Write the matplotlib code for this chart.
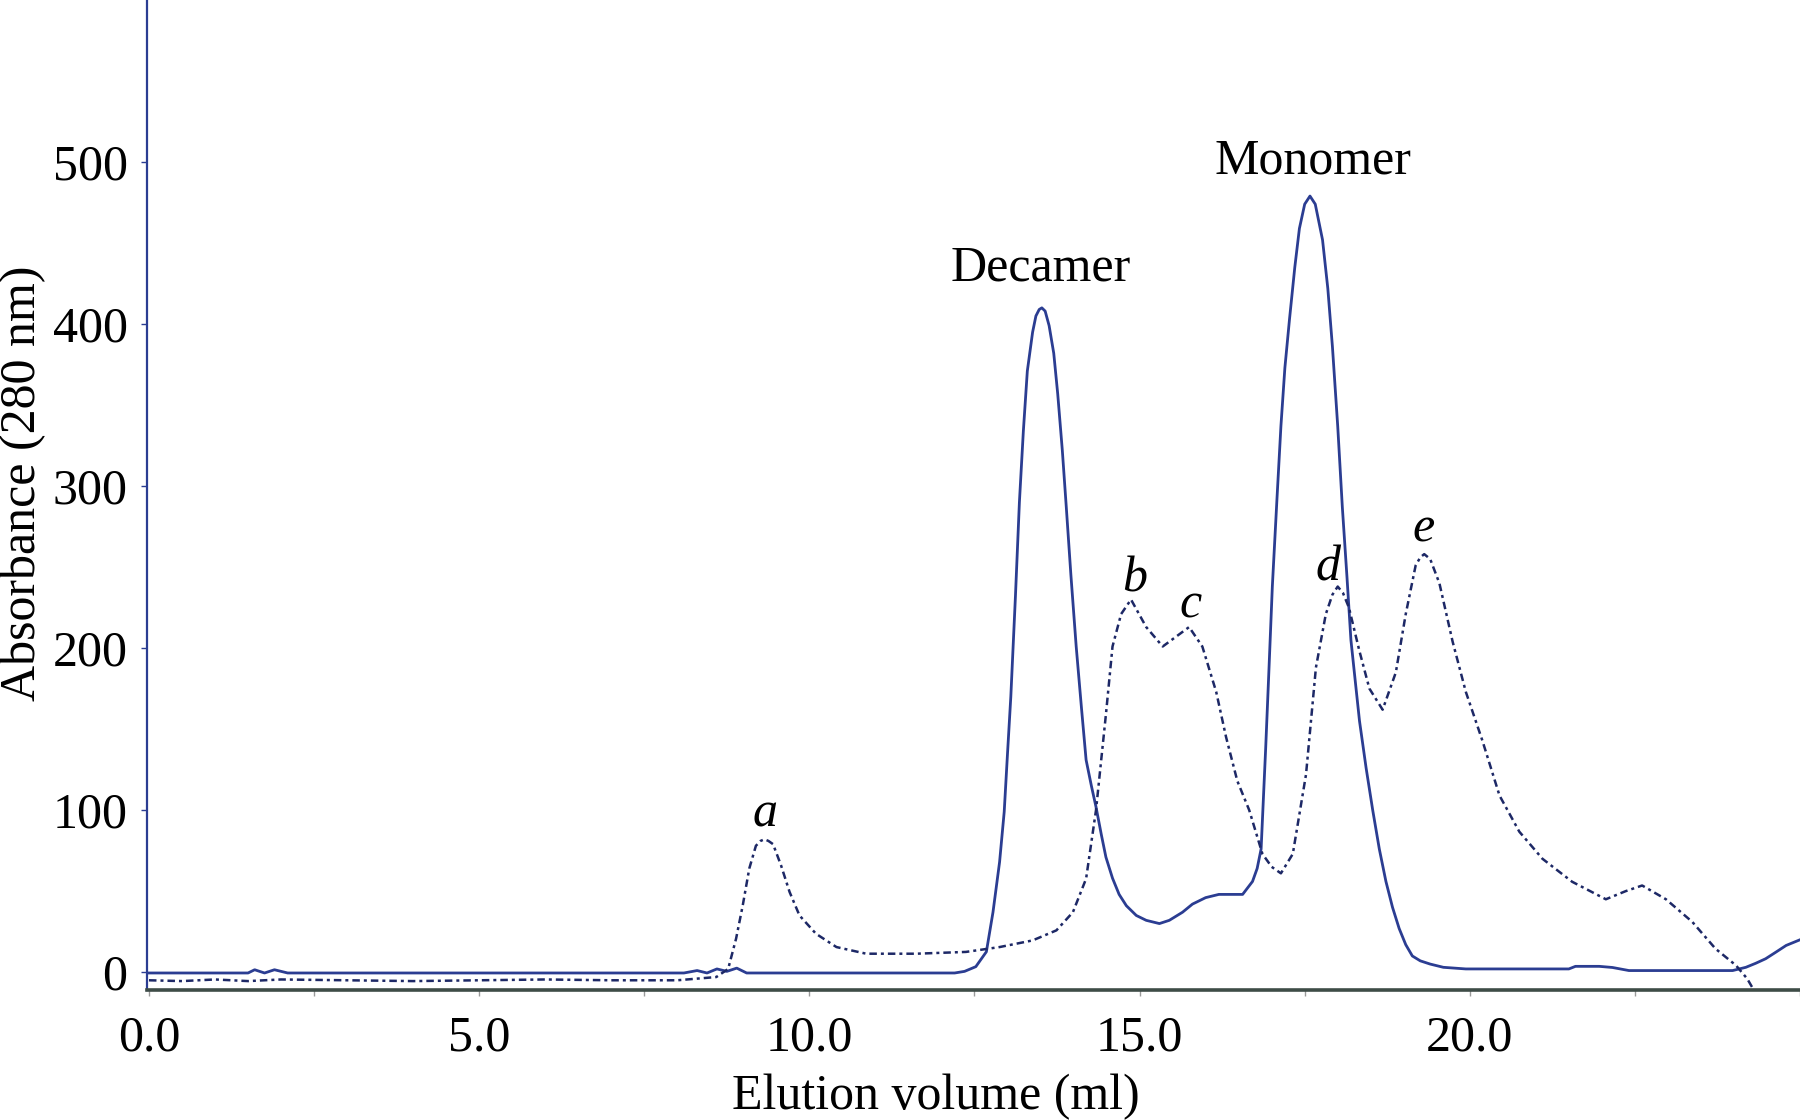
import matplotlib
matplotlib.use("Agg")
import matplotlib.pyplot as plt
from matplotlib.ticker import MultipleLocator, FormatStrFormatter

# elution profile, solid trace (ml, mAU)
vol_solid = [0.0, 1.5, 1.6, 1.75, 1.9, 2.1, 3.0, 8.1, 8.3, 8.45, 8.6, 8.75, 8.9, 9.05, 9.2,
             12.2, 12.35, 12.52, 12.68, 12.78, 12.88, 12.95, 13.0, 13.05, 13.12, 13.18,
             13.24, 13.3, 13.38, 13.43, 13.48, 13.52, 13.57, 13.63, 13.7, 13.76, 13.83,
             13.89, 13.96, 14.04, 14.12, 14.19, 14.27, 14.34, 14.42, 14.49, 14.59, 14.69,
             14.8, 14.95, 15.1, 15.3, 15.45, 15.65, 15.8, 16.0, 16.2, 16.56, 16.71, 16.78,
             16.84, 16.91, 16.96, 17.01, 17.08, 17.14, 17.2, 17.27, 17.35, 17.42, 17.5,
             17.58, 17.66, 17.72, 17.77, 17.85, 17.92, 18.0, 18.07, 18.14, 18.2, 18.27,
             18.33, 18.43, 18.53, 18.63, 18.73, 18.83, 18.93, 19.03, 19.13, 19.25, 19.4,
             19.6, 19.94, 21.5, 21.6, 21.96, 22.16, 22.41, 23.98, 24.18, 24.33, 24.48,
             24.64, 24.79, 25.0]
abs_solid = [-0.5, -0.5, 1.5, -0.5, 1.5, -0.5, -0.5, -0.5, 1.0, -0.5, 2.0, 0.5, 2.5, -0.5, -0.5,
             -0.5, 0.5, 3.4, 12.6, 37, 68, 99, 135, 170, 232, 290,
             334, 371, 395, 405, 409, 410, 408, 399, 382, 357, 322,
             287, 245, 201, 163, 131, 115, 102, 85, 71, 58, 48,
             41, 35, 32, 30, 32, 37, 42, 46, 48, 48, 56, 64,
             76, 139, 188, 238, 292, 337, 373, 403, 435, 459, 474,
             479, 474, 462, 452, 422, 386, 337, 287, 244, 205, 178,
             155, 126, 100, 76, 56, 40, 27, 17, 10, 7, 5,
             3, 2, 2, 3.6, 3.6, 2.9, 1.0, 1.0, 3.0, 5.5, 8.3,
             12.5, 16.5, 20]

# elution profile, dashed trace
vol_dash = [0.0, 0.5, 1.0, 1.5, 2.0, 3.0, 4.0, 5.0, 6.0, 7.0, 8.0, 8.59, 8.77, 8.89, 8.99,
            9.09, 9.19, 9.26, 9.32, 9.38, 9.45, 9.57, 9.7, 9.85, 10.1, 10.41, 10.86, 11.62,
            12.37, 12.88, 13.38, 13.74, 13.99, 14.19, 14.34, 14.49, 14.59, 14.72, 14.87,
            15.1, 15.35, 15.6, 15.75, 15.95, 16.16, 16.31, 16.48, 16.66, 16.86, 17.0,
            17.14, 17.32, 17.52, 17.67, 17.82, 17.92, 18.0, 18.08, 18.17, 18.33, 18.48,
            18.68, 18.88, 19.03, 19.18, 19.25, 19.31, 19.4, 19.54, 19.74, 19.94, 20.19,
            20.45, 20.75, 21.1, 21.55, 22.06, 22.36, 22.61, 22.97, 23.37, 23.72, 24.03,
            24.2, 24.3]
abs_dash = [-5, -5.5, -4.5, -5.5, -4.5, -5, -5.5, -5, -4.5, -5, -5, -3, 2, 20.7, 41,
            64, 78, 81, 82, 81, 79, 66, 49.5, 35, 23.7, 15.5, 11.4, 11.4,
            12.5, 15.5, 19.6, 25.8, 37, 57.7, 100, 159, 201, 221, 230,
            213, 201, 208.5, 213, 201, 173, 145, 118, 100, 73, 65,
            61, 73, 122, 188, 221, 233, 238, 234, 225, 198, 175,
            162, 185, 221, 251, 256, 258, 255, 240, 204, 173, 143,
            109, 86.7, 70, 55.8, 45, 50, 53.5, 45, 31, 14.5, 4.2,
            -4, -11]

peak_names = ["Decamer", "Monomer"]
peak_name_pos = [(13.5, 427), (17.63, 493)]
peak_letters = ["a", "b", "c", "d", "e"]
peak_letter_pos = [(9.33, 90), (14.92, 235), (15.77, 219), (17.85, 242), (19.3, 266)]

x_ticks = [0.0, 5.0, 10.0, 15.0, 20.0]
y_ticks = [0, 100, 200, 300, 400, 500]

serif = "Liberation Serif"
fs = 36

fig = plt.figure(figsize=(18, 11.2), dpi=100)
ax = fig.add_axes([147 / 1800, 1 - 990 / 1120, 1 - 147 / 1800, 990 / 1120])

ax.plot(vol_solid, abs_solid, color="#2b3d92", lw=2.0, solid_joinstyle="round")
ax.plot(vol_dash, abs_dash, color="#1d2866", lw=1.8, linestyle=(0, (3, 1.6, 1.2, 1.6)))

for name, (xv, yv) in zip(peak_names, peak_name_pos):
    ax.text(xv, yv, name, ha="center", va="baseline", fontsize=fs, family=serif)
for name, (xv, yv) in zip(peak_letters, peak_letter_pos):
    ax.text(xv, yv, name, ha="center", va="baseline", fontsize=fs, family=serif,
            style="italic")

ax.set_xlim(-0.03, 25.0)
ax.set_ylim(-11, 600)

for s in ["top", "right"]:
    ax.spines[s].set_visible(False)
ax.spines["left"].set_color("#2b3d92")
ax.spines["left"].set_linewidth(1.6)
ax.spines["bottom"].set_color("#3e4c47")
ax.spines["bottom"].set_linewidth(2.6)

ax.set_xticks(x_ticks)
ax.xaxis.set_major_formatter(FormatStrFormatter("%.1f"))
ax.xaxis.set_minor_locator(MultipleLocator(2.5))
ax.set_yticks(y_ticks)
ax.tick_params(axis="x", which="both", length=4, width=1, color="#9a9a9a", pad=14)
ax.tick_params(axis="y", length=4, width=1, color="#2b3d92", pad=10)
for lab in ax.get_xticklabels() + ax.get_yticklabels():
    lab.set_fontfamily(serif)
    lab.set_fontsize(fs)

ax.set_xlabel("Elution volume (ml)", fontsize=fs, family=serif)
ax.set_ylabel("Absorbance (280 nm)", fontsize=fs, family=serif)
ax.xaxis.set_label_coords(0.477, -0.085)
ax.yaxis.set_label_coords(-0.061, 0.512)

fig.savefig("out.png", dpi=100)
